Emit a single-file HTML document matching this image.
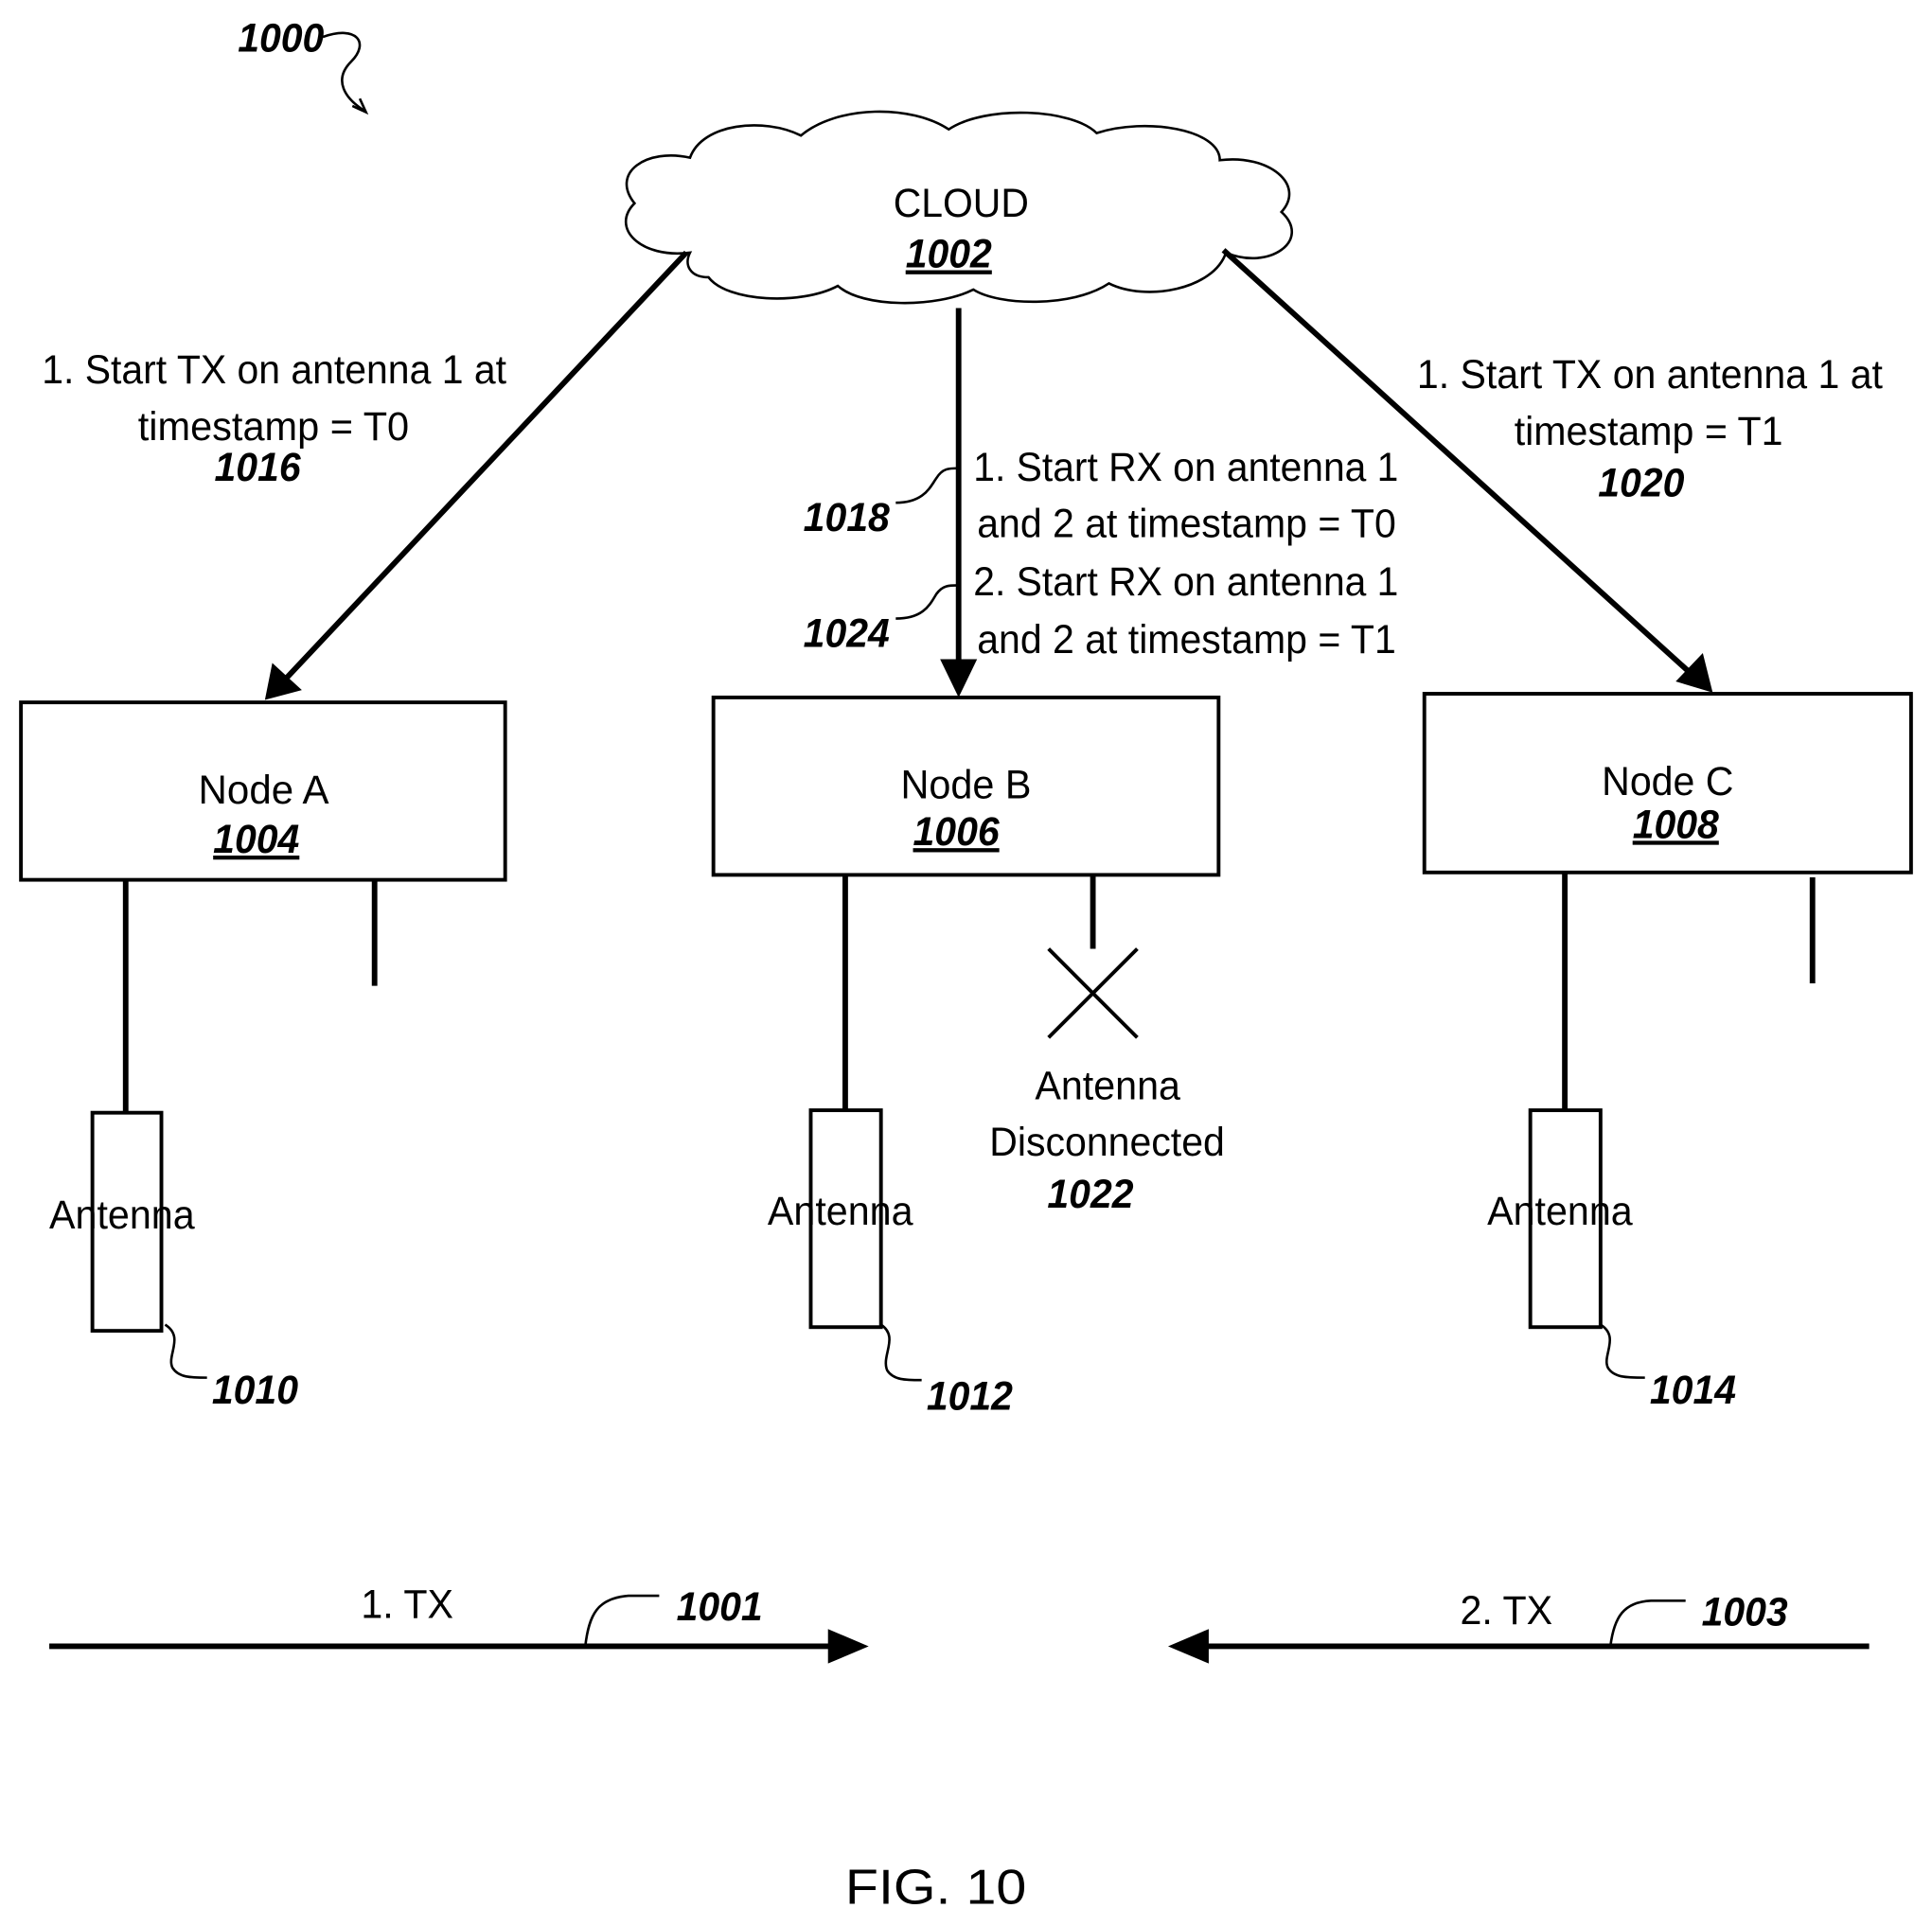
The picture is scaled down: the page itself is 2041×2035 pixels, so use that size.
<!DOCTYPE html>
<html><head><meta charset="utf-8"><style>
html,body{margin:0;padding:0;background:#fff;}
svg{display:block;}
text{font-family:"Liberation Sans",sans-serif;fill:#000;}
.n{font-size:33px;}
.b{font-size:33px;font-weight:bold;font-style:italic;}
</style></head><body>
<svg width="2041" height="2035" viewBox="0 0 1568 1563" preserveAspectRatio="none" xmlns="http://www.w3.org/2000/svg">
<g fill="none" stroke="#000" stroke-width="2.5">
<path d="M560,205 C520,210 495,185 515,165 C495,140 525,120 560,128 C570,100 620,95 650,110 C680,85 740,85 770,105 C800,85 870,88 890,108 C930,95 990,105 990,130 C1030,125 1060,150 1040,172 C1065,195 1030,220 995,205 C985,235 930,245 900,230 C870,250 810,248 790,235 C760,250 700,250 680,232 C650,248 590,245 575,225 C560,225 555,215 560,205 Z" stroke-width="2"/>
</g>
<g stroke="#000" stroke-width="4.5" fill="none">
<line x1="557" y1="205" x2="228" y2="555"/>
<line x1="778" y1="250" x2="778" y2="545"/>
<line x1="993" y1="203" x2="1375" y2="549"/>
<line x1="40" y1="1336" x2="680" y2="1336"/>
<line x1="975" y1="1336" x2="1517" y2="1336"/>
<line x1="102" y1="714" x2="102" y2="903"/>
<line x1="304" y1="714" x2="304" y2="800"/>
<line x1="686" y1="710" x2="686" y2="901"/>
<line x1="887" y1="710" x2="887" y2="770"/>
<line x1="1270" y1="708" x2="1270" y2="901"/>
<line x1="1471" y1="712" x2="1471" y2="798"/>
</g>
<g fill="#000">
<polygon points="215,568 221,538 245,560"/>
<polygon points="778,566 763,535 793,535"/>
<polygon points="1390,562 1360,553 1382,530"/>
<polygon points="705,1336 672,1322 672,1350"/>
<polygon points="948,1336 981,1322 981,1350"/>
</g>
<g stroke="#000" stroke-width="3" fill="#fff">
<rect x="17" y="570" width="393" height="144"/>
<rect x="579" y="566" width="410" height="144"/>
<rect x="1156" y="563" width="395" height="145"/>
<rect x="75" y="903" width="56" height="177"/>
<rect x="658" y="901" width="57" height="176"/>
<rect x="1242" y="901" width="57" height="176"/>
</g>
<g stroke="#000" stroke-width="3">
<line x1="851" y1="770" x2="923" y2="842"/>
<line x1="923" y1="770" x2="851" y2="842"/>
</g>
<g stroke="#000" stroke-width="2" fill="none">
<path d="M262,30 C290,20 300,35 285,50 C270,65 280,80 296,90"/>
<path d="M286,86 L297,91 L292,80"/>
<path d="M727,408 C750,408 755,395 760,388 C765,380 770,380 778,380"/>
<path d="M727,502 C750,502 755,490 760,482 C765,475 770,475 778,475"/>
<path d="M134,1075 C150,1085 135,1100 140,1110 C145,1118 155,1118 168,1118"/>
<path d="M715,1075 C730,1085 715,1100 720,1112 C725,1120 735,1120 748,1120"/>
<path d="M1299,1075 C1315,1085 1300,1100 1305,1110 C1310,1118 1320,1118 1335,1118"/>
<path d="M475,1336 C478,1310 485,1297 510,1295 L535,1295"/>
<path d="M1307,1336 C1310,1312 1318,1300 1340,1299 L1368,1299"/>
</g>
<text class="b" x="193" y="42" textLength="70" lengthAdjust="spacingAndGlyphs">1000</text>
<text class="n" x="725" y="176" textLength="110" lengthAdjust="spacingAndGlyphs">CLOUD</text>
<text class="b" x="735" y="217" textLength="70" lengthAdjust="spacingAndGlyphs" text-decoration="underline">1002</text>
<text class="n" x="34" y="311" textLength="377" lengthAdjust="spacingAndGlyphs">1. Start TX on antenna 1 at</text>
<text class="n" x="112" y="357" textLength="220" lengthAdjust="spacingAndGlyphs">timestamp = T0</text>
<text class="b" x="174" y="390" textLength="70" lengthAdjust="spacingAndGlyphs">1016</text>
<text class="n" x="790" y="390" textLength="345" lengthAdjust="spacingAndGlyphs">1. Start RX on antenna 1</text>
<text class="n" x="793" y="436" textLength="340" lengthAdjust="spacingAndGlyphs">and 2 at timestamp = T0</text>
<text class="n" x="790" y="483" textLength="345" lengthAdjust="spacingAndGlyphs">2. Start RX on antenna 1</text>
<text class="n" x="793" y="530" textLength="340" lengthAdjust="spacingAndGlyphs">and 2 at timestamp = T1</text>
<text class="b" x="652" y="431" textLength="70" lengthAdjust="spacingAndGlyphs">1018</text>
<text class="b" x="652" y="525" textLength="70" lengthAdjust="spacingAndGlyphs">1024</text>
<text class="n" x="1150" y="315" textLength="378" lengthAdjust="spacingAndGlyphs">1. Start TX on antenna 1 at</text>
<text class="n" x="1229" y="361" textLength="218" lengthAdjust="spacingAndGlyphs">timestamp = T1</text>
<text class="b" x="1297" y="403" textLength="70" lengthAdjust="spacingAndGlyphs">1020</text>
<text class="n" x="161" y="652" textLength="106" lengthAdjust="spacingAndGlyphs">Node A</text>
<text class="b" x="173" y="692" textLength="70" lengthAdjust="spacingAndGlyphs" text-decoration="underline">1004</text>
<text class="n" x="731" y="648" textLength="106" lengthAdjust="spacingAndGlyphs">Node B</text>
<text class="b" x="741" y="686" textLength="70" lengthAdjust="spacingAndGlyphs" text-decoration="underline">1006</text>
<text class="n" x="1300" y="645" textLength="107" lengthAdjust="spacingAndGlyphs">Node C</text>
<text class="b" x="1325" y="680" textLength="70" lengthAdjust="spacingAndGlyphs" text-decoration="underline">1008</text>
<text class="n" x="40" y="997" textLength="118" lengthAdjust="spacingAndGlyphs">Antenna</text>
<text class="n" x="623" y="994" textLength="118" lengthAdjust="spacingAndGlyphs">Antenna</text>
<text class="n" x="1207" y="994" textLength="118" lengthAdjust="spacingAndGlyphs">Antenna</text>
<text class="n" x="840" y="892" textLength="118" lengthAdjust="spacingAndGlyphs">Antenna</text>
<text class="n" x="803" y="938" textLength="191" lengthAdjust="spacingAndGlyphs">Disconnected</text>
<text class="b" x="850" y="980" textLength="70" lengthAdjust="spacingAndGlyphs">1022</text>
<text class="b" x="172" y="1139" textLength="70" lengthAdjust="spacingAndGlyphs">1010</text>
<text class="b" x="752" y="1144" textLength="70" lengthAdjust="spacingAndGlyphs">1012</text>
<text class="b" x="1339" y="1139" textLength="70" lengthAdjust="spacingAndGlyphs">1014</text>
<text class="n" x="293" y="1313" textLength="75" lengthAdjust="spacingAndGlyphs">1. TX</text>
<text class="b" x="549" y="1315" textLength="70" lengthAdjust="spacingAndGlyphs">1001</text>
<text class="n" x="1185" y="1318" textLength="75" lengthAdjust="spacingAndGlyphs">2. TX</text>
<text class="b" x="1381" y="1319" textLength="70" lengthAdjust="spacingAndGlyphs">1003</text>
<text x="686" y="1545" textLength="147" lengthAdjust="spacingAndGlyphs" style="font-size:40px">FIG. 10</text>
</svg>
</body></html>
